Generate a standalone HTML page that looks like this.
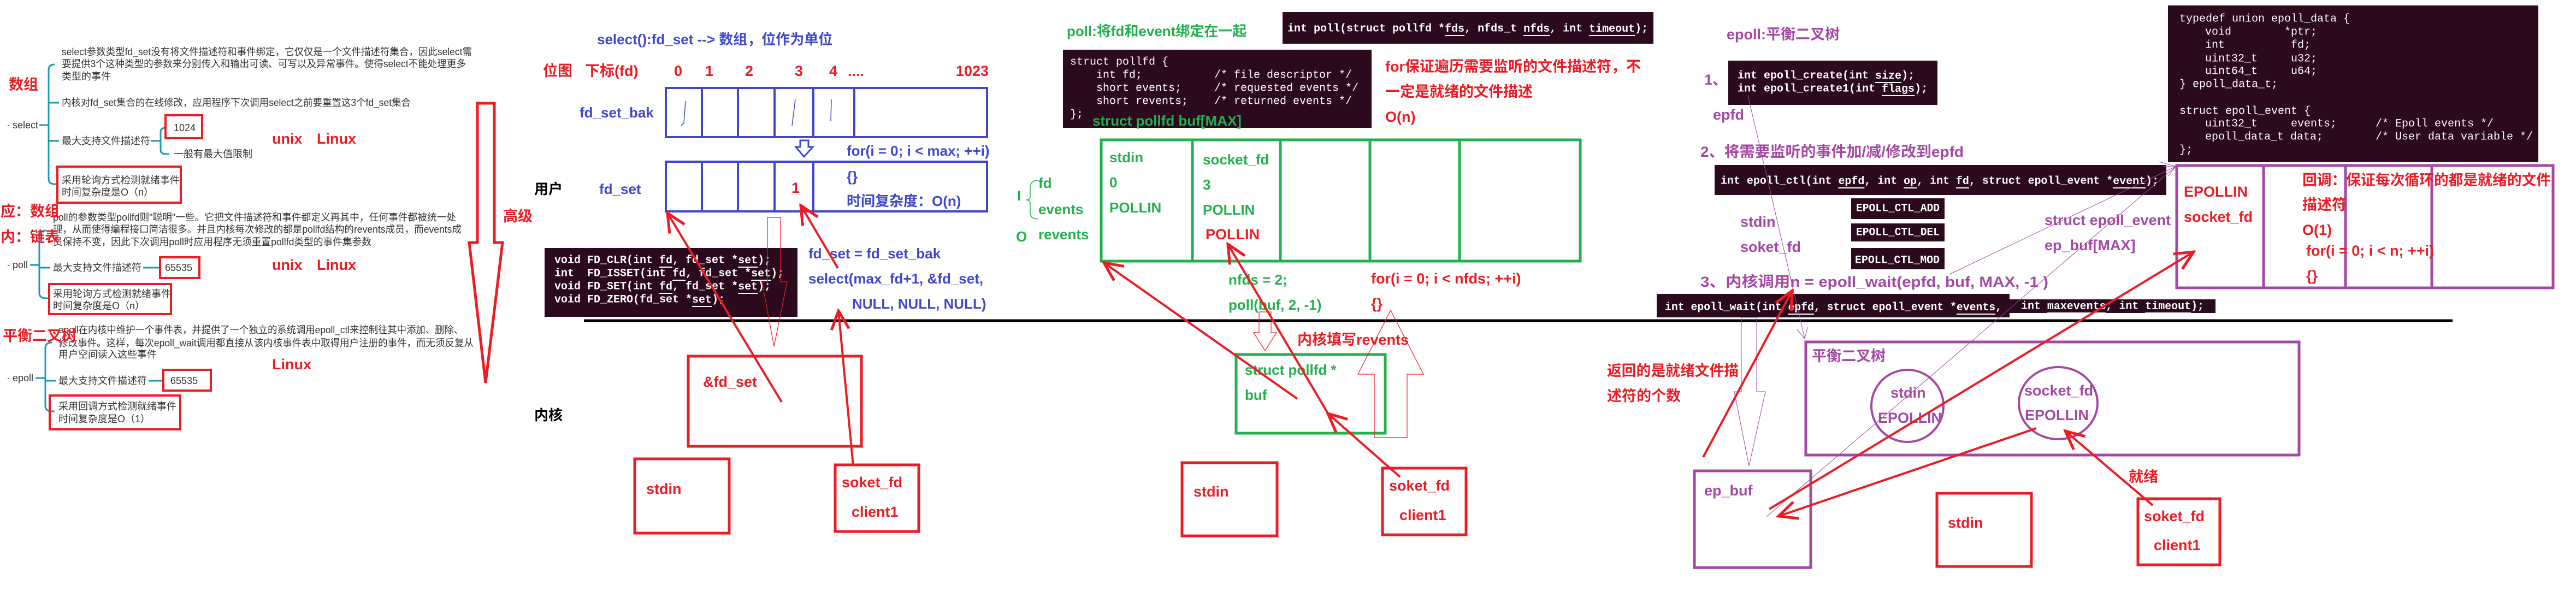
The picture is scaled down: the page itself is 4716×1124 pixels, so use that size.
<!DOCTYPE html>
<html><head><meta charset="utf-8"><style>
html,body{margin:0;padding:0;background:#fff;width:4716px;height:1124px;overflow:hidden}
svg{display:block}
text{font-family:"Liberation Sans","Noto Sans CJK SC",sans-serif;dominant-baseline:central}
.n{font-size:18px;fill:#333}
.r{font-size:27px;font-weight:bold;fill:#ed1c24}
.b{font-size:26px;font-weight:bold;fill:#3f48cc}
.g{font-size:26px;font-weight:bold;fill:#22b14c}
.p{font-size:27px;font-weight:bold;fill:#a349a4}
.k{font-size:26px;font-weight:bold;fill:#000}
.m{font-family:"Liberation Mono",monospace;font-size:20px;fill:#fff;font-weight:bold}
.mn{font-family:"Liberation Mono",monospace;font-size:20px;fill:#fff}
</style></head><body>
<svg width="4716" height="1124" viewBox="0 0 4716 1124" xmlns="http://www.w3.org/2000/svg">
<defs>
<marker id="ah" markerWidth="12" markerHeight="12" refX="10" refY="6" orient="auto" markerUnits="userSpaceOnUse" viewBox="0 0 12 12">
<path d="M0,0 L10,6 L0,12" fill="none" stroke="#ed1c24" stroke-width="1.6" transform="scale(1)"/>
</marker>
<marker id="ahb" markerWidth="40" markerHeight="40" refX="36" refY="20" orient="auto" markerUnits="userSpaceOnUse">
<path d="M2,4 L36,20 L2,36" fill="none" stroke="#ed1c24" stroke-width="5"/>
</marker>
<marker id="ahp" markerWidth="24" markerHeight="24" refX="22" refY="12" orient="auto" markerUnits="userSpaceOnUse">
<path d="M2,2 L22,12 L2,22" fill="none" stroke="#a349a4" stroke-width="1"/>
</marker>
</defs>

<!-- ============ LEFT MIND MAP ============ -->
<g fill="none" stroke="#1b9ab3" stroke-width="3">
<!-- select -->
<path d="M72,229 H89"/>
<path d="M100,118 Q89,118 89,128 V327 Q89,337 100,337 H105"/>
<path d="M89,188 H108 M89,258 H108"/>
<path d="M276,258 H294"/>
<path d="M303,234 Q294,234 294,242 V274 Q294,282 303,282 H310"/>
<!-- poll -->
<path d="M55,485 H72"/>
<path d="M84,422 Q72,422 72,432 V536 Q72,546 84,546 H90"/>
<path d="M72,490 H92"/>
<path d="M262,490 H293"/>
<!-- epoll -->
<path d="M65,692 H83"/>
<path d="M95,627 Q83,627 83,637 V743 Q83,753 95,753 H100"/>
<path d="M83,697 H102"/>
<path d="M272,697 H299"/>
</g>
<text class="n" x="113" y="95" textLength="751" lengthAdjust="spacingAndGlyphs">select参数类型fd_set没有将文件描述符和事件绑定，它仅仅是一个文件描述符集合，因此select需</text>
<text class="n" x="113" y="117" textLength="740" lengthAdjust="spacingAndGlyphs">要提供3个这种类型的参数来分别传入和输出可读、可写以及异常事件。使得select不能处理更多</text>
<text class="n" x="113" y="140">类型的事件</text>
<text class="n" x="113" y="188" textLength="639" lengthAdjust="spacingAndGlyphs">内核对fd_set集合的在线修改，应用程序下次调用select之前要重置这3个fd_set集合</text>
<text class="n" x="12" y="229">· select</text>
<text class="n" x="113" y="258">最大支持文件描述符</text>
<rect x="303" y="211" width="67" height="42" fill="none" stroke="#ed1c24" stroke-width="4"/>
<text class="n" x="318" y="234">1024</text>
<text class="n" x="318" y="282">一般有最大值限制</text>
<rect x="105" y="305" width="226" height="66" fill="none" stroke="#ed1c24" stroke-width="4"/>
<text class="n" x="113" y="330">采用轮询方式检测就绪事件</text>
<text class="n" x="113" y="352">时间复杂度是O（n）</text>

<text class="n" x="97" y="398" textLength="738" lengthAdjust="spacingAndGlyphs">poll的参数类型pollfd则"聪明"一些。它把文件描述符和事件都定义再其中，任何事件都被统一处</text>
<text class="n" x="97" y="420" textLength="748" lengthAdjust="spacingAndGlyphs">理，从而使得编程接口简洁很多。并且内核每次修改的都是pollfd结构的revents成员，而events成</text>
<text class="n" x="97" y="443" textLength="583" lengthAdjust="spacingAndGlyphs">员保持不变，因此下次调用poll时应用程序无须重置pollfd类型的事件集参数</text>
<text class="n" x="12" y="485">· poll</text>
<text class="n" x="97" y="490">最大支持文件描述符</text>
<rect x="293" y="471" width="72" height="38" fill="none" stroke="#ed1c24" stroke-width="4"/>
<text class="n" x="302" y="490">65535</text>
<rect x="90" y="520" width="223" height="55" fill="none" stroke="#ed1c24" stroke-width="4"/>
<text class="n" x="97" y="538">采用轮询方式检测就绪事件</text>
<text class="n" x="97" y="560">时间复杂度是O（n）</text>

<text class="n" x="107" y="604" textLength="741" lengthAdjust="spacingAndGlyphs">epoll在内核中维护一个事件表，并提供了一个独立的系统调用epoll_ctl来控制往其中添加、删除、</text>
<text class="n" x="107" y="628" textLength="760" lengthAdjust="spacingAndGlyphs">修改事件。这样，每次epoll_wait调用都直接从该内核事件表中取得用户注册的事件，而无须反复从</text>
<text class="n" x="107" y="649">用户空间读入这些事件</text>
<text class="n" x="12" y="692">· epoll</text>
<text class="n" x="107" y="697">最大支持文件描述符</text>
<rect x="299" y="677" width="87" height="38" fill="none" stroke="#ed1c24" stroke-width="4"/>
<text class="n" x="312" y="697">65535</text>
<rect x="91" y="724" width="239" height="62" fill="none" stroke="#ed1c24" stroke-width="4"/>
<text class="n" x="107" y="744">采用回调方式检测就绪事件</text>
<text class="n" x="107" y="767">时间复杂度是O（1）</text>

<text class="r" x="16" y="155">数组</text>
<text class="r" x="1" y="387">应：数组</text>
<text class="r" x="1" y="434">内：链表</text>
<text class="r" x="5" y="615">平衡二叉树</text>
<text class="r" x="498" y="254">unix</text><text class="r" x="580" y="254">Linux</text>
<text class="r" x="498" y="485">unix</text><text class="r" x="580" y="485">Linux</text>
<text class="r" x="498" y="667">Linux</text>
<polygon points="874,189 905,189 905,444 920,444 889,701 859,444 874,444" fill="none" stroke="#ed1c24" stroke-width="5"/>
<text class="r" x="921" y="396">高级</text>

<!-- ============ SELECT ============ -->
<text class="b" x="1093" y="72">select():fd_set --&gt; 数组，位作为单位</text>
<text class="r" x="994" y="130">位图</text>
<text class="r" x="1071" y="130">下标(fd)</text>
<text class="r" x="1234" y="130">0</text>
<text class="r" x="1291" y="130">1</text>
<text class="r" x="1364" y="130">2</text>
<text class="r" x="1455" y="130">3</text>
<text class="r" x="1518" y="130">4</text>
<text class="r" x="1552" y="130">....</text>
<text class="r" x="1750" y="130">1023</text>
<text class="b" x="1061" y="206">fd_set_bak</text>
<g fill="none" stroke="#3f48cc" stroke-width="4">
<rect x="1219" y="161" width="588" height="90"/>
<path d="M1285,161 V251 M1351,161 V251 M1418,161 V251 M1489,161 V251 M1564,161 V251"/>
<rect x="1219" y="296" width="588" height="91"/>
<path d="M1285,296 V387 M1351,296 V387 M1418,296 V387 M1489,296 V387"/>
<path d="M1465,257 H1480 V269 H1488 L1472,287 L1457,269 H1465 Z" stroke-width="3"/>
</g>
<g fill="none" stroke="#3f48cc" stroke-width="1.5">
<path d="M1255,185 L1252,225 L1247,230"/>
<path d="M1456,182 L1450,230"/>
<path d="M1522,182 L1521,222"/>
</g>
<text class="b" x="1550" y="276">for(i = 0; i &lt; max; ++i)</text>
<text class="b" x="1550" y="323">{}</text>
<text class="b" x="1550" y="368">时间复杂度：O(n)</text>
<text class="r" x="1449" y="344">1</text>
<text class="k" x="978" y="346">用户</text>
<text class="b" x="1097" y="346">fd_set</text>
<text class="k" x="978" y="760">内核</text>

<rect x="997" y="454" width="463" height="126" fill="#2c0a1e"/>
<text class="m" x="1015" y="477" xml:space="preserve">void FD_CLR(int <tspan text-decoration="underline">fd</tspan>, fd_set *<tspan text-decoration="underline">set</tspan>);</text>
<text class="m" x="1015" y="501" xml:space="preserve">int  FD_ISSET(int <tspan text-decoration="underline">fd</tspan>, fd_set *<tspan text-decoration="underline">set</tspan>);</text>
<text class="m" x="1015" y="525" xml:space="preserve">void FD_SET(int <tspan text-decoration="underline">fd</tspan>, fd_set *<tspan text-decoration="underline">set</tspan>);</text>
<text class="m" x="1015" y="549" xml:space="preserve">void FD_ZERO(fd_set *<tspan text-decoration="underline">set</tspan>);</text>

<text class="b" x="1480" y="464">fd_set = fd_set_bak</text>
<text class="b" x="1480" y="510">select(max_fd+1, &amp;fd_set,</text>
<text class="b" x="1560" y="556">NULL, NULL, NULL)</text>

<line x1="1069" y1="587" x2="4490" y2="587" stroke="#000" stroke-width="5"/>

<polygon points="1405,398 1429,398 1429,516 1441,516 1417,634 1395,516 1405,516" fill="none" stroke="#ed1c24" stroke-width="1.2"/>
<rect x="1260" y="652" width="317" height="165" fill="none" stroke="#ed1c24" stroke-width="5"/>
<text class="r" x="1287" y="699">&amp;fd_set</text>
<rect x="1162" y="840" width="173" height="136" fill="none" stroke="#ed1c24" stroke-width="5"/>
<text class="r" x="1183" y="895">stdin</text>
<rect x="1529" y="851" width="153" height="122" fill="none" stroke="#ed1c24" stroke-width="5"/>
<text class="r" x="1541" y="883">soket_fd</text>
<text class="r" x="1559" y="937">client1</text>
<g stroke="#ed1c24" stroke-width="4" fill="none">
<line x1="1431" y1="736" x2="1222" y2="390" marker-end="url(#ahb)"/>
<line x1="1534" y1="491" x2="1466" y2="376" marker-end="url(#ahb)"/>
<line x1="1562" y1="853" x2="1535" y2="569" marker-end="url(#ahb)"/>
</g>

<!-- ============ POLL ============ -->
<text class="g" x="1862" y="358">I</text>
<path d="M1900,330 Q1886,330 1886,345 V360 Q1886,366 1878,366 Q1886,366 1886,372 V388 Q1886,401 1900,401" fill="none" stroke="#22b14c" stroke-width="1.5"/>
<text class="g" x="1860" y="433">O</text>
<text class="g" x="1953" y="57">poll:将fd和event绑定在一起</text>
<rect x="2348" y="22" width="679" height="58" fill="#2c0a1e"/>
<text class="m" x="2357" y="53" xml:space="preserve">int poll(struct pollfd *<tspan text-decoration="underline">fds</tspan>, nfds_t <tspan text-decoration="underline">nfds</tspan>, int <tspan text-decoration="underline">timeout</tspan>);</text>
<rect x="1946" y="91" width="565" height="143" fill="#2c0a1e"/>
<text class="mn" x="1959" y="114">struct pollfd {</text>
<text class="mn" x="2007" y="138">int    fd;</text>
<text class="mn" x="2007" y="162">short events;</text>
<text class="mn" x="2007" y="186">short revents;</text>
<text class="mn" x="2223" y="138">/* file descriptor */</text>
<text class="mn" x="2223" y="162">/* requested events */</text>
<text class="mn" x="2223" y="186">/* returned events */</text>
<text class="mn" x="1959" y="210">};</text>
<text class="g" x="2000" y="221">struct pollfd buf[MAX]</text>
<text class="r" x="2536" y="122">for保证遍历需要监听的文件描述符，不</text>
<text class="r" x="2536" y="168">一定是就绪的文件描述</text>
<text class="r" x="2536" y="214">O(n)</text>
<g fill="none" stroke="#22b14c" stroke-width="5">
<rect x="2016" y="256" width="877" height="222"/>
<path d="M2183,256 V478 M2344,256 V478 M2508,256 V478 M2672,256 V478"/>
</g>
<text class="g" x="2031" y="288">stdin</text>
<text class="g" x="2031" y="334">0</text>
<text class="g" x="2031" y="380">POLLIN</text>
<text class="g" x="2202" y="292">socket_fd</text>
<text class="g" x="2202" y="338">3</text>
<text class="g" x="2202" y="384">POLLIN</text>
<text class="r" x="2207" y="429">POLLIN</text>
<text class="g" x="1901" y="335">fd</text>
<text class="g" x="1901" y="383">events</text>
<text class="g" x="1901" y="429">revents</text>
<text class="g" x="2249" y="512">nfds = 2;</text>
<text class="g" x="2249" y="558">poll(buf, 2, -1)</text>
<text class="r" x="2510" y="510">for(i = 0; i &lt; nfds; ++i)</text>
<text class="r" x="2510" y="556">{}</text>
<polygon points="2305,571 2327,571 2327,609 2337,609 2316,642 2295,609 2305,609" fill="none" stroke="#ed1c24" stroke-width="1.2"/>
<text class="r" x="2375" y="622">内核填写revents</text>
<rect x="2263" y="649" width="273" height="144" fill="none" stroke="#22b14c" stroke-width="5"/>
<text class="g" x="2279" y="677">struct pollfd *</text>
<text class="g" x="2279" y="723">buf</text>
<polygon points="2516,801 2576,801 2576,685 2606,685 2546,568 2486,685 2516,685" fill="none" stroke="#ed1c24" stroke-width="1.2"/>
<rect x="2164" y="847" width="174" height="134" fill="none" stroke="#ed1c24" stroke-width="5"/>
<text class="r" x="2185" y="900">stdin</text>
<rect x="2531" y="857" width="153" height="122" fill="none" stroke="#ed1c24" stroke-width="5"/>
<text class="r" x="2543" y="889">soket_fd</text>
<text class="r" x="2562" y="943">client1</text>
<g stroke="#ed1c24" stroke-width="4" fill="none">
<line x1="2375" y1="730" x2="2021" y2="481" marker-end="url(#ahb)"/>
<line x1="2563" y1="873" x2="2431" y2="757" marker-end="url(#ahb)"/>
<line x1="2433" y1="760" x2="2248" y2="447" marker-end="url(#ahb)"/>
</g>
<text class="r" x="2942" y="679" textLength="241" lengthAdjust="spacingAndGlyphs">返回的是就绪文件描</text>
<text class="r" x="2942" y="725" textLength="135" lengthAdjust="spacingAndGlyphs">述符的个数</text>

<!-- ============ EPOLL ============ -->
<text class="p" x="3161" y="63">epoll:平衡二叉树</text>
<text class="p" x="3120" y="146">1、</text>
<rect x="3164" y="111" width="383" height="81" fill="#2c0a1e"/>
<text class="m" x="3181" y="139" xml:space="preserve">int epoll_create(int <tspan text-decoration="underline">size</tspan>);</text>
<text class="m" x="3181" y="163" xml:space="preserve">int epoll_create1(int <tspan text-decoration="underline">flags</tspan>);</text>
<text class="p" x="3136" y="210">epfd</text>
<text class="p" x="3113" y="278" textLength="482" lengthAdjust="spacingAndGlyphs">2、将需要监听的事件加/减/修改到epfd</text>
<rect x="3139" y="302" width="827" height="55" fill="#2c0a1e"/>
<text class="m" x="3150" y="332" textLength="802" lengthAdjust="spacingAndGlyphs" xml:space="preserve">int epoll_ctl(int <tspan text-decoration="underline">epfd</tspan>, int <tspan text-decoration="underline">op</tspan>, int <tspan text-decoration="underline">fd</tspan>, struct epoll_event *<tspan text-decoration="underline">event</tspan>);</text>

<rect x="3969" y="10" width="678" height="287" fill="#2c0a1e"/>
<text class="mn" x="3990" y="35">typedef union epoll_data {</text>
<text class="mn" x="4037" y="59">void</text><text class="mn" x="4182" y="59">*ptr;</text>
<text class="mn" x="4037" y="83">int</text><text class="mn" x="4194" y="83">fd;</text>
<text class="mn" x="4037" y="108">uint32_t</text><text class="mn" x="4194" y="108">u32;</text>
<text class="mn" x="4037" y="131">uint64_t</text><text class="mn" x="4194" y="131">u64;</text>
<text class="mn" x="3990" y="155">} epoll_data_t;</text>
<text class="mn" x="3990" y="204">struct epoll_event {</text>
<text class="mn" x="4037" y="227">uint32_t</text><text class="mn" x="4194" y="227">events;</text><text class="mn" x="4349" y="227">/* Epoll events */</text>
<text class="mn" x="4037" y="251">epoll_data_t data;</text><text class="mn" x="4349" y="251">/* User data variable */</text>
<text class="mn" x="3990" y="275">};</text>

<rect x="3389" y="363" width="171" height="38" fill="#2c0a1e"/>
<text class="m" x="3398" y="382" textLength="153" lengthAdjust="spacingAndGlyphs">EPOLL_CTL_ADD</text>
<rect x="3389" y="409" width="171" height="33" fill="#2c0a1e"/>
<text class="m" x="3398" y="426" textLength="153" lengthAdjust="spacingAndGlyphs">EPOLL_CTL_DEL</text>
<rect x="3389" y="454" width="171" height="39" fill="#2c0a1e"/>
<text class="m" x="3396" y="477" textLength="155" lengthAdjust="spacingAndGlyphs">EPOLL_CTL_MOD</text>
<text class="p" x="3186" y="406">stdin</text>
<text class="p" x="3186" y="452">soket_fd</text>
<text class="p" x="3743" y="403">struct epoll_event</text>
<text class="p" x="3743" y="449">ep_buf[MAX]</text>
<text class="p" x="3113" y="516" textLength="637" lengthAdjust="spacingAndGlyphs">3、内核调用n = epoll_wait(epfd, buf, MAX, -1 )</text>
<rect x="3033" y="538" width="646" height="43" fill="#2c0a1e"/>
<text class="m" x="3048" y="563" textLength="617" lengthAdjust="spacingAndGlyphs" xml:space="preserve">int epoll_wait(int <tspan text-decoration="underline">epfd</tspan>, struct epoll_event *<tspan text-decoration="underline">events</tspan>,</text>
<rect x="3679" y="548" width="377" height="25" fill="#2c0a1e"/>
<text class="m" x="3700" y="561" textLength="335" lengthAdjust="spacingAndGlyphs" xml:space="preserve">int <tspan text-decoration="underline">maxevents</tspan>, int <tspan text-decoration="underline">timeout</tspan>);</text>

<g fill="none" stroke="#a349a4" stroke-width="5">
<rect x="3985" y="303" width="689" height="224"/>
<path d="M4144,303 V527 M4294,303 V527 M4452,303 V527"/>
<rect x="3306" y="626" width="903" height="207"/>
<ellipse cx="3492" cy="743" rx="66" ry="66" stroke-width="4"/>
<ellipse cx="3768" cy="738" rx="72" ry="66" stroke-width="4"/>
<rect x="3102" y="862" width="213" height="177"/>
</g>
<text class="r" x="3998" y="351">EPOLLIN</text>
<text class="r" x="3998" y="397">socket_fd</text>
<text class="r" x="4215" y="330" textLength="455" lengthAdjust="spacingAndGlyphs">回调：保证每次循环的都是就绪的文件</text>
<text class="r" x="4215" y="375">描述符</text>
<text class="r" x="4215" y="421">O(1)</text>
<text class="r" x="4222" y="459">for(i = 0; i &lt; n; ++i)</text>
<text class="r" x="4222" y="505">{}</text>
<text class="p" x="3317" y="652">平衡二叉树</text>
<text class="p" x="3461" y="719">stdin</text>
<text class="p" x="3438" y="765">EPOLLIN</text>
<text class="p" x="3706" y="715">socket_fd</text>
<text class="p" x="3707" y="760">EPOLLIN</text>
<text class="p" x="3120" y="898">ep_buf</text>
<rect x="3546" y="903" width="173" height="134" fill="none" stroke="#ed1c24" stroke-width="5"/>
<text class="r" x="3566" y="957">stdin</text>
<rect x="3914" y="913" width="150" height="121" fill="none" stroke="#ed1c24" stroke-width="5"/>
<text class="r" x="3925" y="945">soket_fd</text>
<text class="r" x="3943" y="998">client1</text>
<text class="r" x="3897" y="873">就绪</text>

<g fill="none" stroke="#a349a4" stroke-width="1">
<line x1="3200" y1="175" x2="3304" y2="620" marker-end="url(#ahp)"/>
<line x1="3569" y1="502" x2="3983" y2="305" marker-end="url(#ahp)"/>
<line x1="3234" y1="946" x2="3983" y2="305"/>
<line x1="3952" y1="296" x2="3985" y2="305"/>
<polygon points="3188,581 3216,581 3216,717 3232,717 3202,853 3175,717 3188,717"/>
</g>
<g stroke="#ed1c24" stroke-width="4" fill="none">
<line x1="3118" y1="837" x2="3281" y2="532" marker-end="url(#ahb)"/>
<line x1="3239" y1="932" x2="4016" y2="461" marker-end="url(#ahb)"/>
<line x1="3728" y1="784" x2="3256" y2="945" marker-end="url(#ahb)"/>
<line x1="3941" y1="925" x2="3781" y2="789" marker-end="url(#ahb)"/>
</g>
</svg>
</body></html>
